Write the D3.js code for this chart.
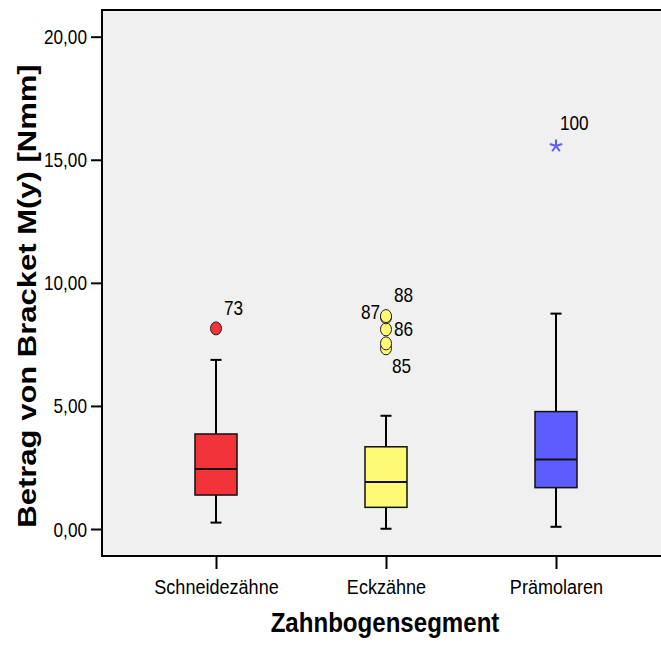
<!DOCTYPE html>
<html>
<head>
<meta charset="utf-8">
<script src="https://cdn.jsdelivr.net/npm/d3@7"></script>
<style>
  html, body { margin: 0; padding: 0; background: #ffffff; }
  svg { display: block; }
  text { font-family: "Liberation Sans", Arial, sans-serif; fill: #000; }
</style>
</head>
<body>
<svg id="chart" width="661" height="647"></svg>
<script>
// ---- data ----
const categories = ["Schneidezähne", "Eckzähne", "Prämolaren"];
const boxColors = ["#f2333a", "#fdfa75", "#5c5cff"];
const whiskerLow = [0.26, 0.01, 0.09];
const q1 = [1.38, 0.88, 1.68];
const median = [2.44, 1.91, 2.82];
const q3 = [3.86, 3.34, 4.77];
const whiskerHigh = [6.87, 4.60, 8.75];
// outliers (circle) and extremes (star)
const outlierCategory = [0, 1, 1, 1, 1, 1, 2];
const outlierValue = [8.15, 8.65, 8.60, 8.11, 7.54, 7.34, 15.56];
const outlierLabel = ["73", "88", "87", "86", "", "85", "100"];
const outlierType = ["circle", "circle", "circle", "circle", "circle", "circle", "star"];
const yTicks = [0, 5, 10, 15, 20];
const yTitle = "Betrag von Bracket M(y) [Nmm]";
const xTitle = "Zahnbogensegment";

// ---- layout ----
const svg = d3.select("#chart");
const frame = { left: 102, top: 10, bottom: 556 };
const y = d3.scaleLinear().domain([0, 20]).range([529, 36.7]);
const x = d3.scalePoint().domain(categories).range([216, 556]);
const sx = 0.86; // horizontal text compression of the original rendering
const fmt = v => d3.format(".2f")(v).replace(".", ",");

svg.append("rect").attr("width", 661).attr("height", 647).attr("fill", "#fff");
svg.append("rect")
  .attr("x", frame.left).attr("y", frame.top)
  .attr("width", 700).attr("height", frame.bottom - frame.top)
  .attr("fill", "#f0f0f0").attr("stroke", "#000").attr("stroke-width", 2);

// y axis
const yAxis = svg.append("g").attr("transform", `translate(${frame.left - 1},0)`)
  .call(d3.axisLeft(y).tickValues(yTicks).tickSize(10).tickSizeOuter(0).tickFormat(fmt));
yAxis.select(".domain").remove();
yAxis.selectAll(".tick line").attr("stroke", "#000").attr("stroke-width", 2);
yAxis.selectAll(".tick text")
  .attr("x", null).attr("dy", null)
  .attr("transform", `translate(-14,7) scale(${sx},1)`)
  .style("font-size", "20px").style("font-family", '"Liberation Sans", Arial, sans-serif')
  .attr("fill", "#000");

// x axis
const xAxis = svg.append("g").attr("transform", `translate(0,${frame.bottom + 1})`)
  .call(d3.axisBottom(x).tickSize(12).tickSizeOuter(0));
xAxis.select(".domain").remove();
xAxis.selectAll(".tick line").attr("stroke", "#000").attr("stroke-width", 2);
xAxis.selectAll(".tick text")
  .attr("y", null).attr("dy", null)
  .attr("transform", `translate(0,37) scale(${sx},1)`)
  .style("font-size", "21px").style("font-family", '"Liberation Sans", Arial, sans-serif')
  .attr("fill", "#000");

// axis titles
svg.append("text")
  .attr("transform", `translate(385,632) scale(${sx},1)`)
  .attr("text-anchor", "middle")
  .style("font-size", "28px").style("font-weight", "bold")
  .text(xTitle);
svg.append("text")
  .attr("transform", `translate(36,296) rotate(-90) scale(1,${sx})`)
  .attr("text-anchor", "middle")
  .style("font-size", "31px").style("font-weight", "bold")
  .text(yTitle);

// boxes
const boxW = 42, capW = 11;
const g = svg.append("g");
categories.forEach((c, i) => {
  const cx = x(c);
  // whiskers
  g.append("line").attr("x1", cx).attr("x2", cx).attr("y1", y(q3[i])).attr("y2", y(whiskerHigh[i]))
    .attr("stroke", "#000").attr("stroke-width", 2);
  g.append("line").attr("x1", cx).attr("x2", cx).attr("y1", y(q1[i])).attr("y2", y(whiskerLow[i]))
    .attr("stroke", "#000").attr("stroke-width", 2);
  g.append("line").attr("x1", cx - capW / 2).attr("x2", cx + capW / 2)
    .attr("y1", y(whiskerHigh[i])).attr("y2", y(whiskerHigh[i]))
    .attr("stroke", "#000").attr("stroke-width", 2);
  g.append("line").attr("x1", cx - capW / 2).attr("x2", cx + capW / 2)
    .attr("y1", y(whiskerLow[i])).attr("y2", y(whiskerLow[i]))
    .attr("stroke", "#000").attr("stroke-width", 2);
  // box
  g.append("rect").attr("x", cx - boxW / 2).attr("width", boxW)
    .attr("y", y(q3[i])).attr("height", y(q1[i]) - y(q3[i]))
    .attr("fill", boxColors[i]).attr("stroke", "#111").attr("stroke-width", 1.5);
  g.append("line").attr("x1", cx - boxW / 2).attr("x2", cx + boxW / 2)
    .attr("y1", y(median[i])).attr("y2", y(median[i]))
    .attr("stroke", "#111").attr("stroke-width", 2);
});

// outliers, drawn bottom-up so higher ones sit on top
const labelPos = {
  "73": [8, -13, "start"], "88": [8, -14, "start"], "87": [-6, 2, "end"],
  "86": [8, 7, "start"], "85": [6, 25, "start"], "100": [4, -16, "start"]
};
const order = d3.range(outlierValue.length).sort((a, b) => outlierValue[a] - outlierValue[b]);
order.forEach(j => {
  const cx = x(categories[outlierCategory[j]]);
  const cy = y(outlierValue[j]);
  const col = boxColors[outlierCategory[j]];
  if (outlierType[j] === "circle") {
    g.append("ellipse").attr("cx", cx).attr("cy", cy).attr("rx", 5.5).attr("ry", 6.5)
      .attr("fill", col).attr("stroke", "#222").attr("stroke-width", 1);
  } else {
    const r = 6.5;
    const path = d3.path();
    [-90, -18, 54, 126, 198].forEach(a => {
      const t = a * Math.PI / 180;
      path.moveTo(cx, cy);
      path.lineTo(cx + r * Math.cos(t), cy + r * Math.sin(t));
    });
    g.append("path").attr("d", path.toString()).attr("stroke", col).attr("stroke-width", 2)
      .attr("fill", "none");
  }
});
outlierValue.forEach((v, j) => {
  const lab = outlierLabel[j];
  if (!lab) return;
  const p = labelPos[lab] || [8, -13, "start"];
  const cx = x(categories[outlierCategory[j]]);
  const cy = y(v);
  svg.append("text")
    .attr("transform", `translate(${cx + p[0]},${cy + p[1]}) scale(${sx},1)`)
    .attr("text-anchor", p[2])
    .style("font-size", "20px")
    .text(lab);
});
</script>
</body>
</html>
